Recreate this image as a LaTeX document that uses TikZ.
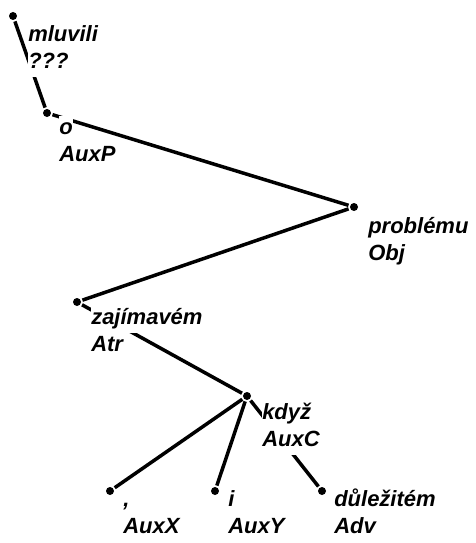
\documentclass[tikz,border=0pt]{standalone}
\usepackage{fontspec}
\setmainfont{Liberation Sans}
\usepackage{tikz}
\newcommand{\wbox}[1]{{\setlength{\fboxsep}{0.5pt}\colorbox{white}{\rule[-8pt]{0pt}{26pt}#1}}}

\begin{document}
\begin{tikzpicture}[x=1pt,y=-1pt,line width=3.5pt,
  dot/.style={circle,fill=black,inner sep=0pt,minimum size=8pt},
  lbl/.style={anchor=north west,align=left,inner sep=0pt,font=\bfseries\itshape\fontsize{22}{27}\selectfont}]
\useasboundingbox (0,0) rectangle (476,543);
% dots of the tree
\node[dot] (mluvili) at (13,16) {};
\node[dot] (o) at (47,113) {};
\node[dot] (problemu) at (354,207) {};
\node[dot] (zajimavem) at (77,302) {};
\node[dot] (kdyz) at (247,396) {};
\node[dot] (comma) at (110,491) {};
\node[dot] (i) at (215,491) {};
\node[dot] (dulezitem) at (322,491) {};
% edges
\draw (mluvili)--(o); \draw (o)--(problemu); \draw (problemu)--(zajimavem);
\draw (zajimavem)--(kdyz); \draw (kdyz)--(comma); \draw (kdyz)--(i); \draw (kdyz)--(dulezitem);
% labels, white under each line (top of box = baseline - 18.5)
\node[lbl] (mluvili-l) at (26,21.5) {\wbox{mluvili}\\\wbox{???}};
\node[lbl] (o-l) at (57,114.5) {\wbox{o}\\\wbox{AuxP}};
\node[lbl] (problemu-l) at (366,213.5) {\wbox{problému}\\\wbox{Obj}};
\node[lbl] (zajimavem-l) at (89,304.5) {\wbox{zajímavém}\\\wbox{Atr}};
\node[lbl] (kdyz-l) at (260,399.5) {\wbox{když}\\\wbox{AuxC}};
\node[lbl] (comma-l) at (121,486.5) {\wbox{,}\\\wbox{AuxX}};
\node[lbl] (i-l) at (226,486.5) {\wbox{i}\\\wbox{AuxY}};
\node[lbl] (dulezitem-l) at (332,486.5) {\wbox{důležitém}\\\wbox{Adv}};
\end{tikzpicture}
\end{document}
